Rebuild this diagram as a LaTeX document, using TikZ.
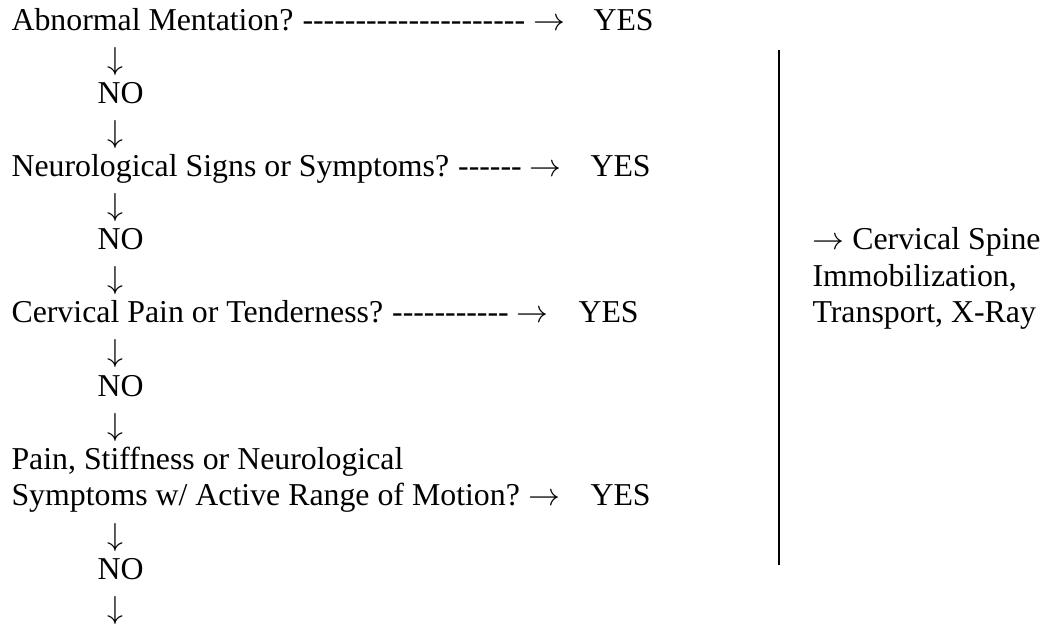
\documentclass[tikz,border=0pt]{standalone}
\usepackage{fontspec}
\setmainfont{Liberation Serif}[Ligatures=TeXOff]
\usetikzlibrary{positioning}

\begin{document}
\begin{tikzpicture}[x=0.377pt, y=-0.377pt, font=\fontsize{12}{13.8}\selectfont]
    \tikzstyle{txt}=[inner sep=0pt, anchor=base west]
    \tikzstyle{dn}=[inner sep=0pt, anchor=base]
    \tikzstyle{vline}=[line width=0.75pt]

      \useasboundingbox (0,0) rectangle (1046,626);
      % questions and their YES branch
      \node[txt] (q1) at (11,30) {Abnormal Mentation?};
      \node (d1) [right=3pt of q1.base east, txt] {--------------------- $\rightarrow$};
      \node[txt] (y1) at (593,30) {YES};
      \node[dn] (a1) at (115,69) {$\downarrow$};
      \node[txt] (n1) at (97,103.2) {NO};
      \node[dn] (a2) at (115,142) {$\downarrow$};
      \node[txt] (q2) at (11,176.4) {Neurological Signs or Symptoms?};
      \node (d2) [right=3pt of q2.base east, txt] {------ $\rightarrow$};
      \node[txt] (y2) at (590,176.4) {YES};
      \node[dn] (a3) at (115,215) {$\downarrow$};
      \node[txt] (n2) at (97,249.6) {NO};
      \node[dn] (a4) at (115,288.5) {$\downarrow$};
      \node[txt] (q3) at (11,322.8) {Cervical Pain or Tenderness?};
      \node (d3) [right=3pt of q3.base east, txt] {----------- $\rightarrow$};
      \node[txt] (y3) at (578,322.8) {YES};
      \node[dn] (a5) at (115,361.5) {$\downarrow$};
      \node[txt] (n3) at (97,396) {NO};
      \node[dn] (a6) at (115,435) {$\downarrow$};
      \node[txt, align=left] (q4) at (11,505.8) {Pain, Stiffness or Neurological\\Symptoms w/ Active Range of Motion?};
      \node[txt] (y4) at (590,505.8) {YES};
      \coordinate (m4) at (q4.east |- y4.base);
      \node (d4) [right=3pt of m4, txt] {$\rightarrow$};
      \node[dn] (a7) at (115,545) {$\downarrow$};
      \node[txt] (n4) at (97,579) {NO};
      \node[dn] (a8) at (115,618) {$\downarrow$};
      % outcome of any YES
      \coordinate (vtop) at (779,50);
      \coordinate (vbot) at (779,565);
      \draw[vline] (vtop) -- (vbot);
      \node[txt, align=left] (res) at (812,322.8) {$\rightarrow$ Cervical Spine\\Immobilization,\\Transport, X-Ray};
    \end{tikzpicture}
\end{document}
